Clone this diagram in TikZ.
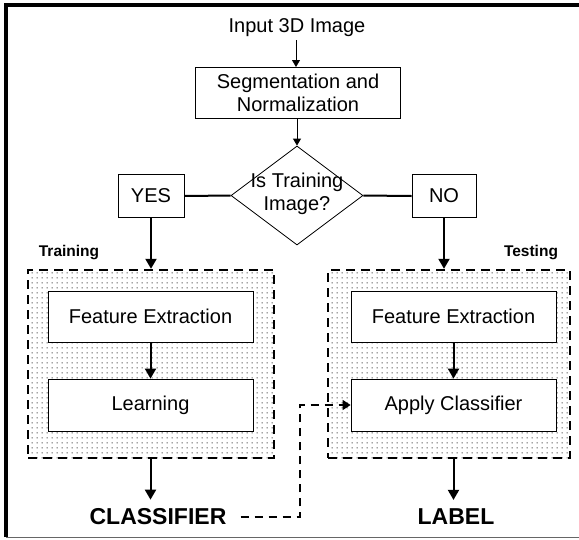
\documentclass[tikz,border=0pt]{standalone}
\usepackage{fontspec}
\setmainfont{Liberation Sans}
\usetikzlibrary{shapes.geometric,arrows.meta,patterns}
\pgfdeclarepatternformonly{mydots}{\pgfpointorigin}{\pgfpoint{5pt}{5pt}}{\pgfpoint{5pt}{5pt}}{%
  \pgfpathcircle{\pgfpoint{2.5pt}{2.5pt}}{0.7pt}\pgfusepath{fill}}
\tikzset{
  txt/.style={font=\fontsize{20}{23}\selectfont, inner sep=0pt, align=center},
  bigtxt/.style={font=\fontsize{23}{26}\selectfont\bfseries, inner sep=0pt},
  grouplbl/.style={font=\fontsize{15.5}{18}\selectfont\bfseries, inner sep=0pt},
  procbox/.style={draw=black, line width=0.8pt, fill=white, rectangle, inner sep=0pt,
     font=\fontsize{20}{23}\selectfont, align=center},
  groupbox/.style={draw=black, line width=2.4pt, dash pattern=on 9pt off 6pt,
     pattern=mydots, pattern color=black, rectangle, inner sep=0pt},
  thinarrow/.style={line width=0.8pt, -{Triangle[length=7pt,width=8pt]}},
  thickarrow/.style={line width=2pt, -{Triangle[length=10pt,width=11pt]}},
  thickline/.style={line width=2pt},
  linkarrow/.style={line width=1.6pt, dash pattern=on 8pt off 6pt, -{Triangle[length=8pt,width=10pt]}}
}
\begin{document}
\begin{tikzpicture}[x=1pt,y=1pt]
\useasboundingbox (0,0) rectangle (579,-539);
% outer frame
\draw[line width=4pt] (6,-537) -- (6,-5) -- (581,-5);
\draw[line width=0.8pt, black!60] (6,-537) -- (581,-537);

% group boxes
\node[groupbox, minimum width=246pt, minimum height=188pt] (lbox) at (151,-364) {};
\node[groupbox, minimum width=242pt, minimum height=188pt] (rbox) at (449,-364) {};

% nodes
\node[txt] (inp) at (297,-28) {Input 3D Image};
\node[procbox, minimum width=205pt, minimum height=51pt] (seg) at (298,-92.5) {Segmentation and\\Normalization};
\node[diamond, draw=black, line width=0.8pt, minimum width=132pt, minimum height=99pt, inner sep=0pt] (dia) at (297,-195.5) {};
\node[txt] (diat) at (297,-194) {Is Training\\Image?};
\node[procbox, minimum width=66pt, minimum height=43pt] (yes) at (151,-196) {YES};
\node[procbox, minimum width=64pt, minimum height=43pt] (no) at (444,-196) {NO};
\node[grouplbl] (trn) at (69,-253) {Training};
\node[grouplbl] (tst) at (531,-253) {Testing};

\node[procbox, minimum width=205pt, minimum height=51pt] (fe1) at (150.5,-316.5) {Feature Extraction};
\node[procbox, minimum width=205pt, minimum height=52pt] (lrn) at (150.5,-405) {Learning};
\node[procbox, minimum width=205pt, minimum height=51pt] (fe2) at (453.5,-316.5) {Feature Extraction};
\node[procbox, minimum width=205pt, minimum height=52pt] (app) at (453.5,-405) {Apply Classifier};

\node[bigtxt] (cls) at (158,-517) {CLASSIFIER};
\node[bigtxt] (lab) at (456,-517) {LABEL};
\coordinate (bend1) at (300,-517);
\coordinate (bend2) at (300,-405);

% connectors
\draw[thinarrow] (inp.south) ++(-1,-3) -- (296,-67);
\draw[thinarrow] (seg.south -| dia.north) -- (dia.north);
\draw[thickline] (yes.east) -- (dia.west);
\draw[thickline] (no.west) -- (dia.east);
\draw[thickarrow] (yes.south) -- (yes.south |- lbox.north);
\draw[thickarrow] (no.south) -- (no.south |- rbox.north);
\draw[thickarrow] (fe1.south) -- (lrn.north);
\draw[thickarrow] (fe2.south) -- (app.north);
\draw[thickarrow, shorten >=9pt] (lbox.south -| fe1.south) -- (fe1.south |- cls.north);
\draw[thickarrow, shorten >=9pt] (rbox.south -| fe2.south) -- (fe2.south |- lab.north);
\draw[linkarrow] ([xshift=14pt]cls.east) -- (bend1) -- (bend2) -- (app.west);
\end{tikzpicture}
\end{document}
